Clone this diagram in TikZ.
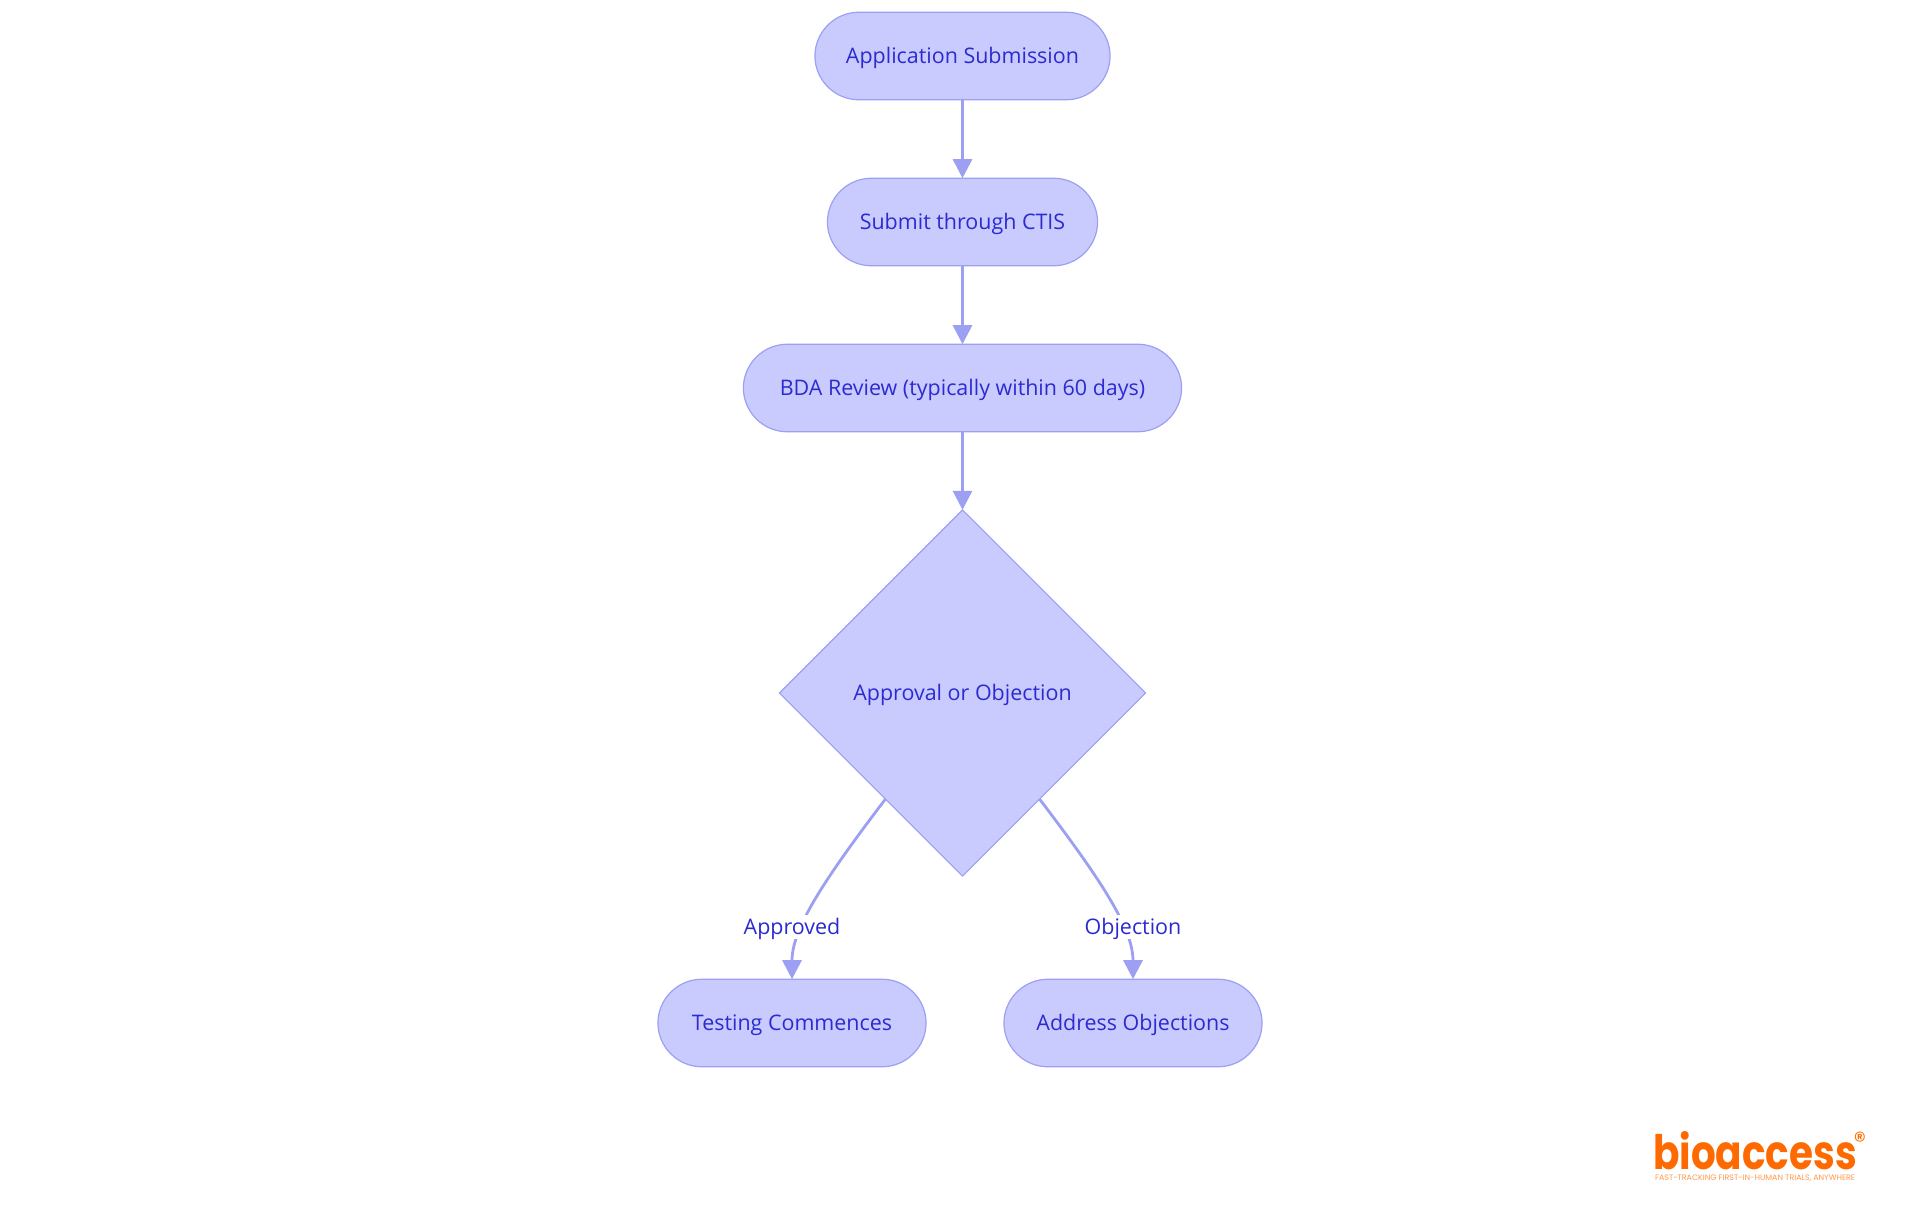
\documentclass[tikz,border=0pt]{standalone}
\usepackage{fontspec}
\setmainfont{Open Sans}
\newfontfamily\logofont{Poppins}
\usetikzlibrary{shapes.geometric,arrows.meta}
\definecolor{boxfill}{HTML}{C9CBFF}
\definecolor{boxline}{HTML}{9C9FF2}
\definecolor{boxtext}{HTML}{2B2BCF}
\definecolor{logoorange}{HTML}{FF6A00}
\tikzset{
	steptext/.style={text=boxtext,text height=1.7mm,text depth=0.2mm,font=\fontsize{6.1}{7}\selectfont},
	stepbox/.style={steptext,draw=boxline,fill=boxfill,line width=0.12mm,outer sep=0pt,rounded corners=0.44cm,minimum height=0.875cm,inner sep=0pt},
	decisionbox/.style={steptext,draw=boxline,fill=boxfill,line width=0.12mm,outer sep=0pt,diamond,aspect=1,minimum width=3.66cm,minimum height=3.66cm,inner sep=0pt},
	flowline/.style={draw=boxline,line width=0.28mm,-{Triangle[length=1.9mm,width=1.9mm]}},
	branchlabel/.style={steptext,fill=white,inner sep=0.5pt,minimum height=0.245cm}
}
\begin{document}
\begin{tikzpicture}[
				x=0.01cm,
				y=-0.01cm,
				line join=round
			]
			\useasboundingbox (0,0) rectangle (1920,1215);

			% Steps
			\node[stepbox,minimum width=2.95cm] (application) at (962.5,56) {Application Submission};
			\node[stepbox,minimum width=2.70cm] (submit) at (962.5,222) {Submit through CTIS};
			\node[stepbox,minimum width=4.38cm] (review) at (962.5,388) {BDA Review (typically within 60 days)};
			\node[decisionbox] (decision) at (962.5,693) {Approval or Objection};
			\node[stepbox,minimum width=2.68cm] (testing) at (792,1023) {Testing Commences};
			\node[stepbox,minimum width=2.58cm] (address) at (1133,1023) {Address Objections};

			% Connectors
			\draw[flowline] (application) -- (submit);
			\draw[flowline] (submit) -- (review);
			\draw[flowline] (review) -- (decision);
			\draw[flowline] (decision.234) .. controls (820,885) and (792,930) .. (testing.north);
			\draw[flowline] (decision.306) .. controls (1105,885) and (1133,930) .. (address.north);

			% Labels on the branches
			\node[branchlabel] (approved) at (792,927) {Approved};
			\node[branchlabel] (objection) at (1133,927) {Objection};

			% Logo
			\node[text=logoorange,inner sep=0pt,font=\logofont\bfseries\fontsize{13.5}{14}\selectfont] (logoname) at (1755,1151) {\scalebox{0.82}[1]{bioaccess}};
			\node[text=logoorange,inner sep=0pt,font=\logofont\fontsize{7}{8}\selectfont] (logomark) at (1860,1141) {®};
			\node[text=logoorange!70,inner sep=0pt,font=\logofont\fontsize{2.25}{2.5}\selectfont] (logotag) at (1755,1178) {FAST-TRACKING FIRST-IN-HUMAN TRIALS, ANYWHERE};

		\end{tikzpicture}
\end{document}
